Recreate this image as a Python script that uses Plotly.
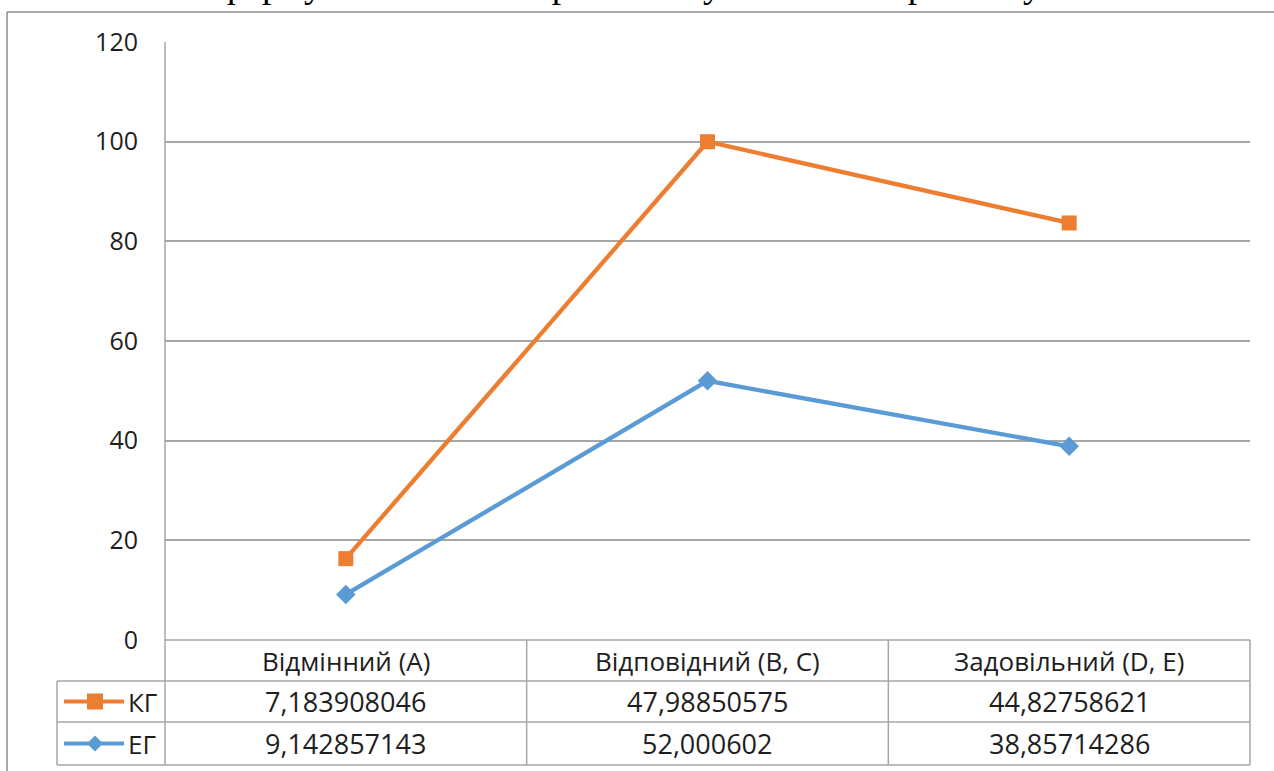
import plotly.graph_objects as go

categories = ["Відмінний (А)", "Відповідний (В, С)", "Задовільний (D, Е)"]
kg_values = [7.183908046, 47.98850575, 44.82758621]
eg_values = [9.142857143, 52.000602, 38.85714286]
kg_labels = ["7,183908046", "47,98850575", "44,82758621"]
eg_labels = ["9,142857143", "52,000602", "38,85714286"]
series_names = ["КГ", "ЕГ"]
title_text = "формувально-моніторинговому етапі експерименту"

ORANGE = "#ED7D31"
BLUE = "#5B9BD5"
GRID = "#A6A6A6"
TXT = "#1E1E1E"
FONT = "Open Sans"

W, H = 1274, 771
L, R, T, B = 165, 1250, 42, 640

def pxx(px):
    return (px - L) / (R - L)

def pyy(py):
    return (B - py) / (B - T)

xs = list(range(len(categories)))

fig = go.Figure()
# stacked line chart: ЕГ first, КГ stacked on top
fig.add_trace(go.Scatter(
    x=xs, y=eg_values, name=series_names[1], stackgroup="s", fill="none",
    mode="lines+markers", line=dict(color=BLUE, width=4.3),
    marker=dict(symbol="diamond", size=15, color=BLUE),
))
fig.add_trace(go.Scatter(
    x=xs, y=kg_values, name=series_names[0], stackgroup="s", fill="none",
    mode="lines+markers", line=dict(color=ORANGE, width=4.3),
    marker=dict(symbol="square", size=15, color=ORANGE),
))

shapes = []
def hline(x0, x1, py, color=GRID, w=1.5):
    shapes.append(dict(type="line", xref="paper", yref="paper", x0=pxx(x0), x1=pxx(x1),
                       y0=pyy(py), y1=pyy(py), line=dict(color=color, width=w)))
def vline(px, y0, y1, color=GRID, w=1.5):
    shapes.append(dict(type="line", xref="paper", yref="paper", x0=pxx(px), x1=pxx(px),
                       y0=pyy(y0), y1=pyy(y1), line=dict(color=color, width=w)))

# outer chart border
hline(7, 1290, 12, "#8C8C8C", 1.5)
vline(7, 12, 790, "#8C8C8C", 1.5)

# data table grid
row_top, row1, row2, row3 = 640, 681, 722, 765
hline(L, R, row_top)
hline(57, R, row1)
hline(57, R, row2)
hline(57, R, row3)
vline(L, T, row3)
vline(57, row1, row3)
for i in range(1, len(categories)):
    vline(L + (R - L) * i / len(categories), row_top, row3)
vline(R, row_top, row3)

# legend keys inside the table
def key(row_center, color, symbol):
    shapes.append(dict(type="line", xref="paper", yref="paper", x0=pxx(64), x1=pxx(124),
                       y0=pyy(row_center), y1=pyy(row_center), line=dict(color=color, width=4)))
    cx = 95
    s = 8
    if symbol == "square":
        shapes.append(dict(type="rect", xref="paper", yref="paper", x0=pxx(cx - s), x1=pxx(cx + s),
                           y0=pyy(row_center + s), y1=pyy(row_center - s),
                           fillcolor=color, line=dict(width=0)))
    else:
        path = (f"M {pxx(cx - s)} {pyy(row_center)} L {pxx(cx)} {pyy(row_center - s)} "
                f"L {pxx(cx + s)} {pyy(row_center)} L {pxx(cx)} {pyy(row_center + s)} Z")
        shapes.append(dict(type="path", xref="paper", yref="paper", path=path,
                           fillcolor=color, line=dict(width=0)))

kg_c = (row1 + row2) / 2
eg_c = (row2 + row3) / 2
key(kg_c, ORANGE, "square")
key(eg_c, BLUE, "diamond")

ann = []
hf = dict(family=FONT, size=26, color=TXT)
nf = dict(family=FONT, size=27, color=TXT)
for i, c in enumerate(categories):
    ann.append(dict(x=i, y=pyy((row_top + row1) / 2), xref="x", yref="paper", text=c,
                    showarrow=False, font=hf, xanchor="center", yanchor="middle"))
    ann.append(dict(x=i, y=pyy(kg_c), xref="x", yref="paper", text=kg_labels[i],
                    showarrow=False, font=nf, xanchor="center", yanchor="middle"))
    ann.append(dict(x=i, y=pyy(eg_c), xref="x", yref="paper", text=eg_labels[i],
                    showarrow=False, font=nf, xanchor="center", yanchor="middle"))
ann.append(dict(x=pxx(126), y=pyy(kg_c), xref="paper", yref="paper", text=series_names[0],
                showarrow=False, font=hf, xanchor="left", yanchor="middle"))
ann.append(dict(x=pxx(126), y=pyy(eg_c), xref="paper", yref="paper", text=series_names[1],
                showarrow=False, font=hf, xanchor="left", yanchor="middle"))
# cut-off title above the chart
ann.append(dict(x=pxx(630), y=pyy(-16), xref="paper", yref="paper", text=title_text,
                showarrow=False, font=dict(family="Liberation Serif", size=37.5, color="#000000"),
                xanchor="center", yanchor="middle"))

fig.update_layout(
    width=W, height=H,
    margin=dict(l=L, r=W - R, t=T, b=H - B),
    paper_bgcolor="white", plot_bgcolor="white",
    showlegend=False,
    shapes=shapes, annotations=ann,
    xaxis=dict(range=[-0.5, len(categories) - 0.5], showticklabels=False, showgrid=False,
               zeroline=False, showline=False, fixedrange=True),
    yaxis=dict(range=[0, 120], dtick=20, showgrid=True, gridcolor=GRID, gridwidth=1.5,
               zeroline=False, showline=False, ticks="", ticklabelstandoff=26,
               tickfont=dict(family=FONT, size=25, color=TXT)),
)

fig.write_html("out.html", config={"displayModeBar": False},
               post_script="document.body.style.margin='0';document.body.style.overflow='hidden';")
